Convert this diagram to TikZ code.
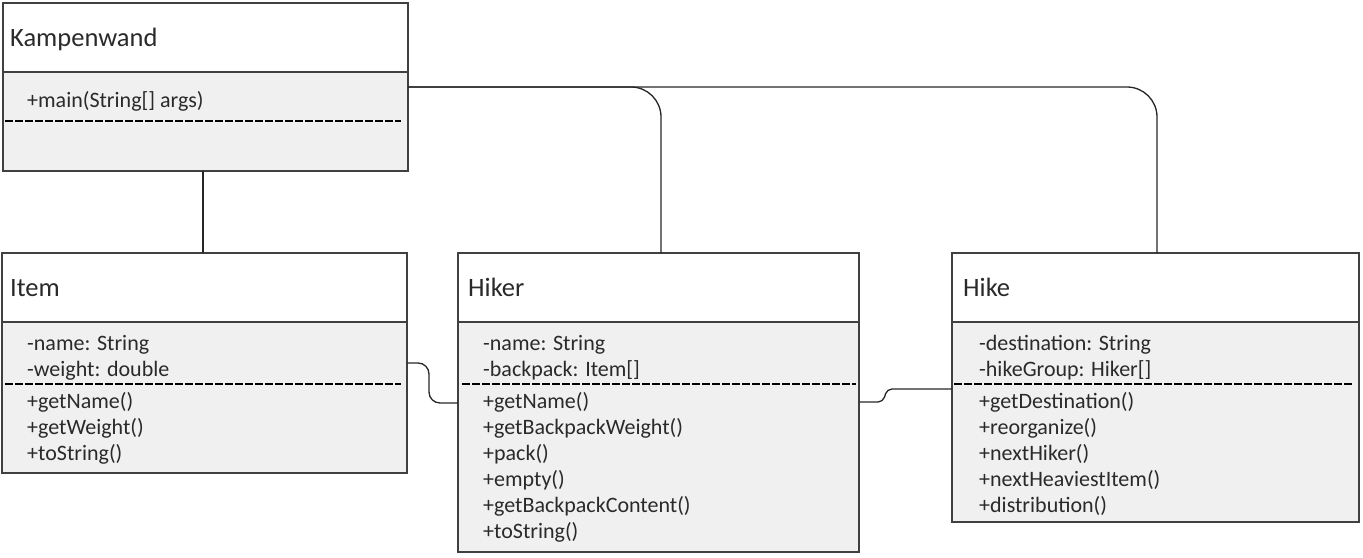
\documentclass[tikz,border=0pt]{standalone}
\usepackage{fontspec}
\setmainfont{Carlito}
\definecolor{boxline}{HTML}{404040}
\definecolor{compfill}{HTML}{F0F0F0}
\definecolor{txt}{HTML}{2A2A2A}
\tikzset{
  classbox/.style={draw=boxline, line width=1.3pt, fill=white, anchor=north west, inner sep=0pt},
  comp/.style={fill=compfill},
  sepline/.style={draw=boxline, line width=1.3pt},
  dashline/.style={draw=black, line width=2.4pt, dash pattern=on 8pt off 2pt},
  title/.style={anchor=base west, inner sep=0pt, text=txt, font=\fontsize{26.5}{31}\selectfont},
  member/.style={anchor=base west, inner sep=0pt, text=txt, font=\fontsize{22}{26}\selectfont},
  conn/.style={draw=black!85, line width=1.3pt},
}
\begin{document}
\begin{tikzpicture}[x=1pt,y=-1pt]
\useasboundingbox (0,0) rectangle (1363,557);

% ---------- Kampenwand ----------
\node[classbox, minimum width=404pt, minimum height=167pt] (kamp) at (3,3) {};
\fill[comp] (3,72) rectangle (407,170);
\draw[sepline] (3,72) -- (407,72);
\draw[boxline, line width=1.3pt] (kamp.north west) rectangle (kamp.south east);
\draw[dashline] (5,121) -- (401,121);
\node[title] (kampT) at (10,46) {Kampenwand};
\node[member] (kampM1) at (27,107) {+main(String[] args)};

% ---------- Item ----------
\node[classbox, minimum width=404pt, minimum height=219pt] (item) at (2,253) {};
\fill[comp] (2,322) rectangle (406,472);
\draw[sepline] (2,322) -- (406,322);
\draw[boxline, line width=1.3pt] (item.north west) rectangle (item.south east);
\draw[dashline] (5,384) -- (401,384);
\node[title] (itemT) at (10,296) {Item};
\node[member] (itemA1) at (27,350) {-name: String};
\node[member] (itemA2) at (27,376) {-weight: double};
\node[member] (itemM1) at (27,408) {+getName()};
\node[member] (itemM2) at (27,434) {+getWeight()};
\node[member] (itemM3) at (27,460) {+toString()};

% ---------- Hiker ----------
\node[classbox, minimum width=400pt, minimum height=298pt] (hiker) at (458,253) {};
\fill[comp] (458,322) rectangle (858,551);
\draw[sepline] (458,322) -- (858,322);
\draw[boxline, line width=1.3pt] (hiker.north west) rectangle (hiker.south east);
\draw[dashline] (462,384) -- (856,384);
\node[title] (hikerT) at (468,296) {Hiker};
\node[member] (hikerA1) at (483,350) {-name: String};
\node[member] (hikerA2) at (483,376) {-backpack: Item[]};
\node[member] (hikerM1) at (483,408) {+getName()};
\node[member] (hikerM2) at (483,434) {+getBackpackWeight()};
\node[member] (hikerM3) at (483,460) {+pack()};
\node[member] (hikerM4) at (483,486) {+empty()};
\node[member] (hikerM5) at (483,512) {+getBackpackContent()};
\node[member] (hikerM6) at (483,538) {+toString()};

% ---------- Hike ----------
\node[classbox, minimum width=406pt, minimum height=268pt] (hike) at (952,253) {};
\fill[comp] (952,322) rectangle (1358,521);
\draw[sepline] (952,322) -- (1358,322);
\draw[boxline, line width=1.3pt] (hike.north west) rectangle (hike.south east);
\draw[dashline] (954,384) -- (1353,384);
\node[title] (hikeT) at (963,296) {Hike};
\node[member] (hikeA1) at (979,350) {-destination: String};
\node[member] (hikeA2) at (979,376) {-hikeGroup: Hiker[]};
\node[member] (hikeM1) at (979,408) {+getDestination()};
\node[member] (hikeM2) at (979,434) {+reorganize()};
\node[member] (hikeM3) at (979,460) {+nextHiker()};
\node[member] (hikeM4) at (979,486) {+nextHeaviestItem()};
\node[member] (hikeM5) at (979,512) {+distribution()};

% ---------- connectors ----------
\draw[conn] (kamp.south -| 203,0) -- (item.north -| 203,0);
\draw[conn, rounded corners=30pt] (kamp.east |- 0,87) -- (661,87) -- (hiker.north -| 661,0);
\draw[conn, rounded corners=30pt] (kamp.east |- 0,87) -- (1157,87) -- (hike.north -| 1157,0);
\draw[conn, rounded corners=11pt] (item.east |- 0,363) -- (429,363) -- (429,403) -- (hiker.west |- 0,403);
\draw[conn, rounded corners=5pt] (hiker.east |- 0,402) -- (883,402) -- (887,389) -- (hike.west |- 0,389);
\end{tikzpicture}
\end{document}
